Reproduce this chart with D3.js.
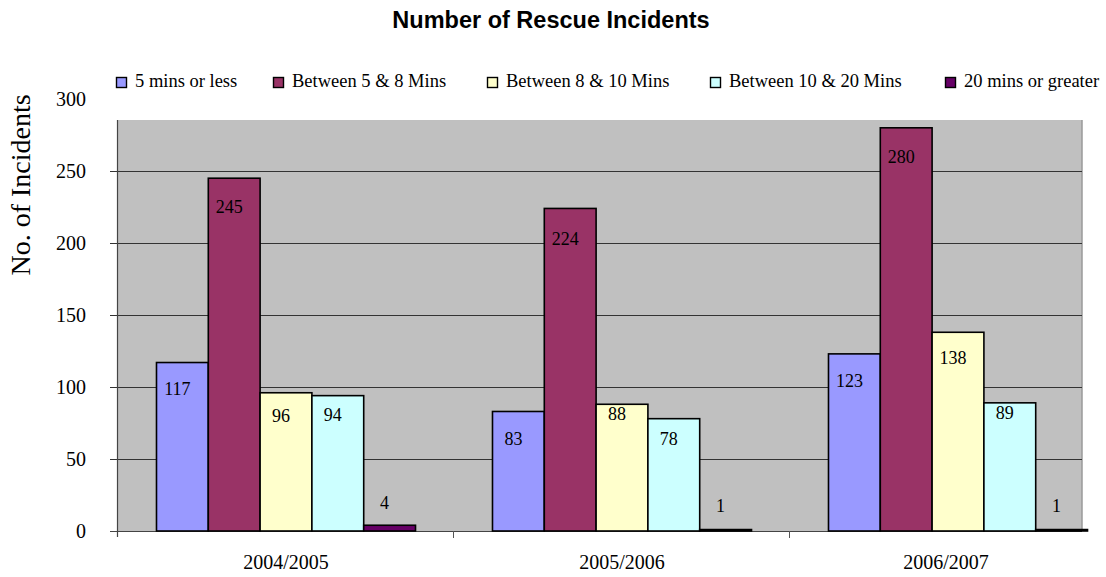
<!DOCTYPE html>
<html>
<head>
<meta charset="utf-8">
<script src="https://cdn.jsdelivr.net/npm/d3@7"></script>
<style>
  html, body { margin: 0; padding: 0; background: #fff; }
  svg { display: block; }
</style>
</head>
<body>
<svg id="chart" width="1106" height="577"></svg>
<script>
// Rescue incidents by response time band, per financial year
const categories = ["2004/2005", "2005/2006", "2006/2007"];
const seriesNames = ["5 mins or less", "Between 5 & 8 Mins", "Between 8 & 10 Mins", "Between 10 & 20 Mins", "20 mins or greater"];
const mins5OrLess = [117, 83, 123];
const mins5to8 = [245, 224, 280];
const mins8to10 = [96, 88, 138];
const mins10to20 = [94, 78, 89];
const mins20Plus = [4, 1, 1];
const yTicks = [0, 50, 100, 150, 200, 250, 300];

const seriesValues = [mins5OrLess, mins5to8, mins8to10, mins10to20, mins20Plus];
const colors = ["#9999ff", "#993366", "#ffffcc", "#ccffff", "#660066"];
// vertical placement of each value label relative to its bar top (px)
const labelDy = [[26, 27, 27], [28, 30, 29], [23, 9, 25], [19, 20, 10], [-23, -24, -24]];
// left edge of each legend entry (px)
const legendX = [116, 273, 487, 710, 945];

const W = 1106;
const svg = d3.select("#chart");
const serif = "'Liberation Serif', 'Times New Roman', serif";
const sans = "'Liberation Sans', Arial, sans-serif";

const plot = { left: 118, right: 1082, top: 120, bottom: 531 };
const catStep = 336;

const y = d3.scaleLinear().domain([0, 300]).range([plot.bottom, plot.bottom - 432]);
const x = d3.scaleBand().domain(categories).range([plot.left, plot.left + catStep * categories.length]).paddingInner(0).paddingOuter(0);
const xs = d3.scaleBand().domain(d3.range(seriesNames.length)).range([0, catStep]).paddingInner(0).paddingOuter(0.743);

// Title
svg.append("text")
  .attr("x", 551).attr("y", 28)
  .attr("text-anchor", "middle")
  .attr("font-family", sans).attr("font-weight", "bold").attr("font-size", 23.5)
  .text("Number of Rescue Incidents");

// Plot background
svg.append("rect")
  .attr("x", plot.left).attr("y", plot.top)
  .attr("width", plot.right - plot.left).attr("height", plot.bottom - plot.top)
  .attr("fill", "#c0c0c0");
svg.append("line")
  .attr("x1", plot.right).attr("x2", plot.right)
  .attr("y1", plot.top).attr("y2", plot.bottom)
  .attr("stroke", "#9a9a9a").attr("stroke-width", 1.5);

// Gridlines
svg.append("g").selectAll("line")
  .data(yTicks.filter(t => t > 0 && y(t) > plot.top))
  .join("line")
  .attr("x1", plot.left - 8).attr("x2", plot.right)
  .attr("y1", d => Math.round(y(d)) + 0.5).attr("y2", d => Math.round(y(d)) + 0.5)
  .attr("stroke", "#333").attr("stroke-width", 1);

// Y axis
const yAxis = d3.axisLeft(y).tickValues(yTicks).tickSize(0).tickPadding(0);
const gy = svg.append("g").attr("transform", `translate(86,0)`).call(yAxis);
gy.select(".domain").remove();
gy.selectAll("text")
  .attr("font-family", serif).attr("font-size", 20).attr("fill", "#000")
  .attr("dy", "0.33em");

svg.append("line")
  .attr("x1", plot.left - 0.5).attr("x2", plot.left - 0.5)
  .attr("y1", plot.top).attr("y2", plot.bottom + 6)
  .attr("stroke", "#444").attr("stroke-width", 1.2);
svg.append("line")
  .attr("x1", plot.left - 8).attr("x2", plot.left)
  .attr("y1", y(0) + 0.5).attr("y2", y(0) + 0.5)
  .attr("stroke", "#444").attr("stroke-width", 1);

// Y axis title
svg.append("text")
  .attr("transform", "translate(30,185) rotate(-90)")
  .attr("text-anchor", "middle")
  .attr("font-family", serif).attr("font-size", 28)
  .text("No. of Incidents");

// X axis line and category ticks
svg.append("line")
  .attr("x1", plot.left).attr("x2", plot.right)
  .attr("y1", y(0) + 0.5).attr("y2", y(0) + 0.5)
  .attr("stroke", "#444").attr("stroke-width", 1);
svg.append("g").selectAll("line")
  .data(categories.slice(1))
  .join("line")
  .attr("x1", d => x(d) - 0.5).attr("x2", d => x(d) - 0.5)
  .attr("y1", y(0)).attr("y2", y(0) + 7)
  .attr("stroke", "#555").attr("stroke-width", 1);

// Bars
const bars = [];
seriesValues.forEach((vals, s) => {
  vals.forEach((v, c) => bars.push({ s, c, v }));
});

svg.append("g").selectAll("rect")
  .data(bars)
  .join("rect")
  .attr("x", d => x(categories[d.c]) + xs(d.s))
  .attr("y", d => y(d.v))
  .attr("width", xs.bandwidth())
  .attr("height", d => y(0) - y(d.v))
  .attr("fill", d => colors[d.s])
  .attr("stroke", "#000").attr("stroke-width", 1.6);

// Value labels
svg.append("g").selectAll("text")
  .data(bars)
  .join("text")
  .attr("x", d => x(categories[d.c]) + xs(d.s) + xs.bandwidth() / 2 - 5)
  .attr("y", d => y(d.v) + labelDy[d.s][d.c])
  .attr("dy", "0.35em")
  .attr("text-anchor", "middle")
  .attr("font-family", serif).attr("font-size", 18)
  .text(d => d.v);

// Category labels, centred on the visible part of each band
svg.append("g").selectAll("text")
  .data(categories)
  .join("text")
  .attr("x", d => (x(d) + Math.min(x(d) + x.bandwidth(), W - 4)) / 2)
  .attr("y", 569)
  .attr("text-anchor", "middle")
  .attr("font-family", serif).attr("font-size", 20)
  .text(d => d);

// Legend
const legend = svg.append("g").selectAll("g")
  .data(seriesNames)
  .join("g")
  .attr("transform", (d, i) => `translate(${legendX[i]},0)`);
legend.append("rect")
  .attr("x", 0.5).attr("y", 77.5).attr("width", 10).attr("height", 10)
  .attr("fill", (d, i) => colors[i]).attr("stroke", "#000").attr("stroke-width", 1.4);
legend.append("text")
  .attr("x", 19).attr("y", 87)
  .attr("font-family", serif).attr("font-size", 18.5)
  .text(d => d);
</script>
</body>
</html>
